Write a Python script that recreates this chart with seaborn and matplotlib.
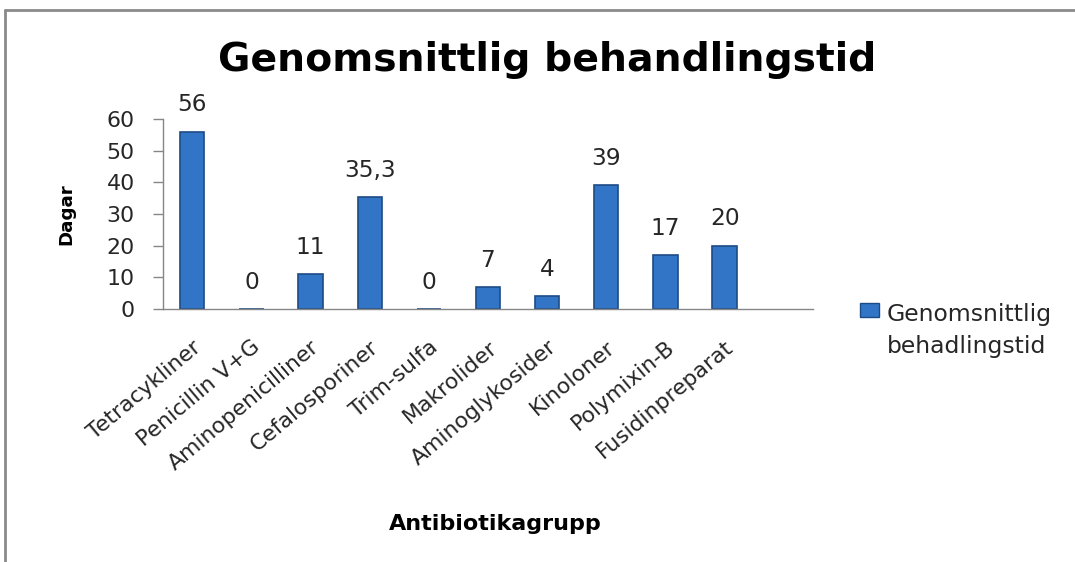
import matplotlib
matplotlib.use("Agg")
import matplotlib.pyplot as plt
import seaborn as sns
import pandas as pd
from matplotlib.lines import Line2D
from matplotlib.patches import Patch

categories = ["Tetracykliner", "Penicillin V+G", "Aminopenicilliner", "Cefalosporiner",
              "Trim-sulfa", "Makrolider", "Aminoglykosider", "Kinoloner",
              "Polymixin-B", "Fusidinpreparat"]
values = [56, 0, 11, 35.3, 0, 7, 4, 39, 17, 20]
value_labels = ["56", "0", "11", "35,3", "0", "7", "4", "39", "17", "20"]
yticks = [0, 10, 20, 30, 40, 50, 60]
series_name = "Genomsnittlig\nbehadlingstid"

sns.set_theme(style="white")
plt.rcParams["font.family"] = ["DejaVu Sans"]

W, H = 1075, 562
df = pd.DataFrame({"Antibiotikagrupp": categories, "Dagar": values})

fig = plt.figure(figsize=(W / 100, H / 100), dpi=100)
ax = fig.add_axes([162.7 / W, (H - 309) / H, 650.6 / W, 190 / H])

bar_color = "#3275c6"
edge_color = "#1d4b85"
sns.barplot(data=df, x="Antibiotikagrupp", y="Dagar", order=categories,
            color=bar_color, width=0.41, ax=ax, saturation=1,
            edgecolor=edge_color, linewidth=1.2)

ax.set_xlim(-0.5, len(categories) + 0.5)
ax.set_ylim(0, 60)
ax.set_yticks(yticks)
ax.set_yticklabels([str(t) for t in yticks], color="#262626")

ax.set_xticks(range(len(categories)))
ax.set_xticklabels(categories, rotation=40, ha="right", rotation_mode="anchor", color="#262626")
ax.tick_params(axis="x", which="major", length=0, pad=20)
ax.set_xticks([i - 0.5 for i in range(len(categories) + 2)], minor=True)
ax.tick_params(axis="x", which="minor", length=5, width=1, color="#868686", direction="out")
ax.tick_params(axis="y", which="major", length=7, width=1, color="#868686", direction="out",
               left=True, pad=13)

for s in ["top", "right"]:
    ax.spines[s].set_visible(False)
for s in ["left", "bottom"]:
    ax.spines[s].set_color("#868686")
    ax.spines[s].set_linewidth(1)

vtexts = []
for i, (v, lab) in enumerate(zip(values, value_labels)):
    t = ax.annotate(lab, xy=(i, v), xytext=(0, 11), textcoords="offset points",
                    ha="center", va="bottom", fontsize=14, color="#262626")
    vtexts.append(t)

ax.set_xlabel("Antibiotikagrupp", fontsize=13, fontweight="bold", color="black")
ax.set_ylabel("Dagar", fontsize=12.5, fontweight="bold", color="black")
ax.xaxis.label.set_va("center")
ax.yaxis.label.set_va("center")
ax.xaxis.set_label_coords(495 / W, (H - 524) / H, transform=fig.transFigure)
ax.yaxis.set_label_coords(66 / W, (H - 214) / H, transform=fig.transFigure)

title = fig.text(547 / W, (H - 60) / H, "Genomsnittlig behandlingstid", ha="center", va="center",
                 fontsize=30, fontweight="bold", color="black")

# chart frame
fig.add_artist(Line2D([5 / W, 5 / W], [0, 1 - 10 / H], transform=fig.transFigure,
                      color="#8a8a8a", linewidth=2))
fig.add_artist(Line2D([5 / W, 1], [1 - 10 / H, 1 - 10 / H], transform=fig.transFigure,
                      color="#8a8a8a", linewidth=2))


def fit_size(artist, target, dim="w"):
    fig.canvas.draw()
    r = fig.canvas.get_renderer()
    bb = artist.get_window_extent(r)
    cur = bb.width if dim == "w" else bb.height
    return artist.get_fontsize() * target / cur


# fit text sizes to reference extents
title.set_fontsize(fit_size(title, 659))
ax.xaxis.label.set_fontsize(fit_size(ax.xaxis.label, 212))
ax.yaxis.label.set_fontsize(fit_size(ax.yaxis.label, 62, "h"))
fig.canvas.draw()
ylab60 = [t for t in ax.get_yticklabels() if t.get_text() == "60"][0]
ax.tick_params(axis="y", labelsize=fit_size(ylab60, 28))
xlab0 = ax.get_xticklabels()[0]
ax.tick_params(axis="x", which="major", labelsize=fit_size(xlab0, 122))
vs = fit_size(vtexts[3], 52)
for t in vtexts:
    t.set_fontsize(vs)

handles = [Patch(facecolor=bar_color, edgecolor=edge_color)]
anchor = (860 / W, (H - 303) / H)
leg = fig.legend(handles, [series_name], loc="upper left", bbox_to_anchor=anchor,
                 frameon=False, fontsize=14, borderpad=0, borderaxespad=0,
                 labelcolor="#262626")
leg_fs = fit_size(leg.get_texts()[0], 165)
leg.remove()
px = leg_fs * 100 / 72
leg = fig.legend(handles, [series_name], loc="upper left", bbox_to_anchor=anchor,
                 frameon=False, fontsize=leg_fs, handlelength=19 / px,
                 handleheight=12 / px, handletextpad=8 / px,
                 borderpad=0, borderaxespad=0, labelcolor="#262626")
for t in leg.get_texts():
    t.set_linespacing(1.5)
for col in leg._legend_handle_box.get_children():
    for row in col.get_children():
        row.align = "top"

fig.savefig("out.png", dpi=100)
